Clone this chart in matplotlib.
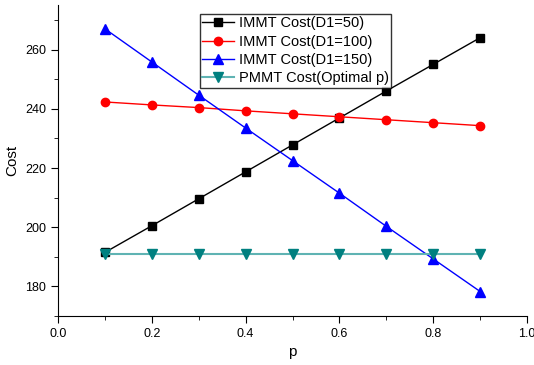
import matplotlib
matplotlib.use("Agg")
import matplotlib.pyplot as plt

plt.rcParams['font.family'] = ['Liberation Sans', 'DejaVu Sans']

p = [0.1, 0.2, 0.3, 0.4, 0.5, 0.6, 0.7, 0.8, 0.9]
cost_d50 = [191.5, 200.5, 209.6, 218.7, 227.8, 236.9, 246.0, 255.0, 264.0]
cost_d100 = [242.3, 241.3, 240.4, 239.3, 238.3, 237.3, 236.3, 235.3, 234.3]
cost_d150 = [267.0, 255.8, 244.6, 233.5, 222.5, 211.5, 200.3, 189.3, 178.3]
cost_pmmt = [191.0, 191.0, 191.0, 191.0, 191.0, 191.0, 191.0, 191.0, 191.0]

fig = plt.figure(figsize=(5.34, 3.65), dpi=100)
ax = fig.add_axes([0.1086, 0.134, 0.8784, 0.852])

ax.plot(p, cost_d50, color='black', lw=1, marker='s', ms=6, label='IMMT Cost(D1=50)')
ax.plot(p, cost_d100, color='red', lw=1, marker='o', ms=6, label='IMMT Cost(D1=100)')
ax.plot(p, cost_d150, color='blue', lw=1, marker='^', ms=7, label='IMMT Cost(D1=150)')
ax.plot(p, cost_pmmt, color='#5fb3b3', lw=1.5, marker='v', ms=7,
        mfc='#008080', mec='#008080', label='PMMT Cost(Optimal p)')

ax.set_xlim(0, 1.0)
ax.set_ylim(170, 275)
ax.set_xticks([0.0, 0.2, 0.4, 0.6, 0.8, 1.0])
ax.set_xticks([0.1, 0.3, 0.5, 0.7, 0.9], minor=True)
ax.set_yticks([180, 200, 220, 240, 260])
ax.set_yticks([170, 190, 210, 230, 250, 270], minor=True)
ax.tick_params(direction='out', labelsize=9, length=5)
ax.tick_params(which='minor', direction='out', length=3)
for s in ['top', 'right']:
    ax.spines[s].set_visible(False)

ax.set_xlabel('p', fontsize=11)
ax.set_ylabel('Cost', fontsize=11)

leg = ax.legend(loc='upper left', bbox_to_anchor=(0.303, 0.971), fontsize=10.5,
                frameon=True, fancybox=False, edgecolor='black',
                handlelength=2.2, handletextpad=0.3, labelspacing=0.3,
                borderpad=0.15, borderaxespad=0)
leg.get_frame().set_linewidth(1)

fig.savefig('out.png', dpi=100)
